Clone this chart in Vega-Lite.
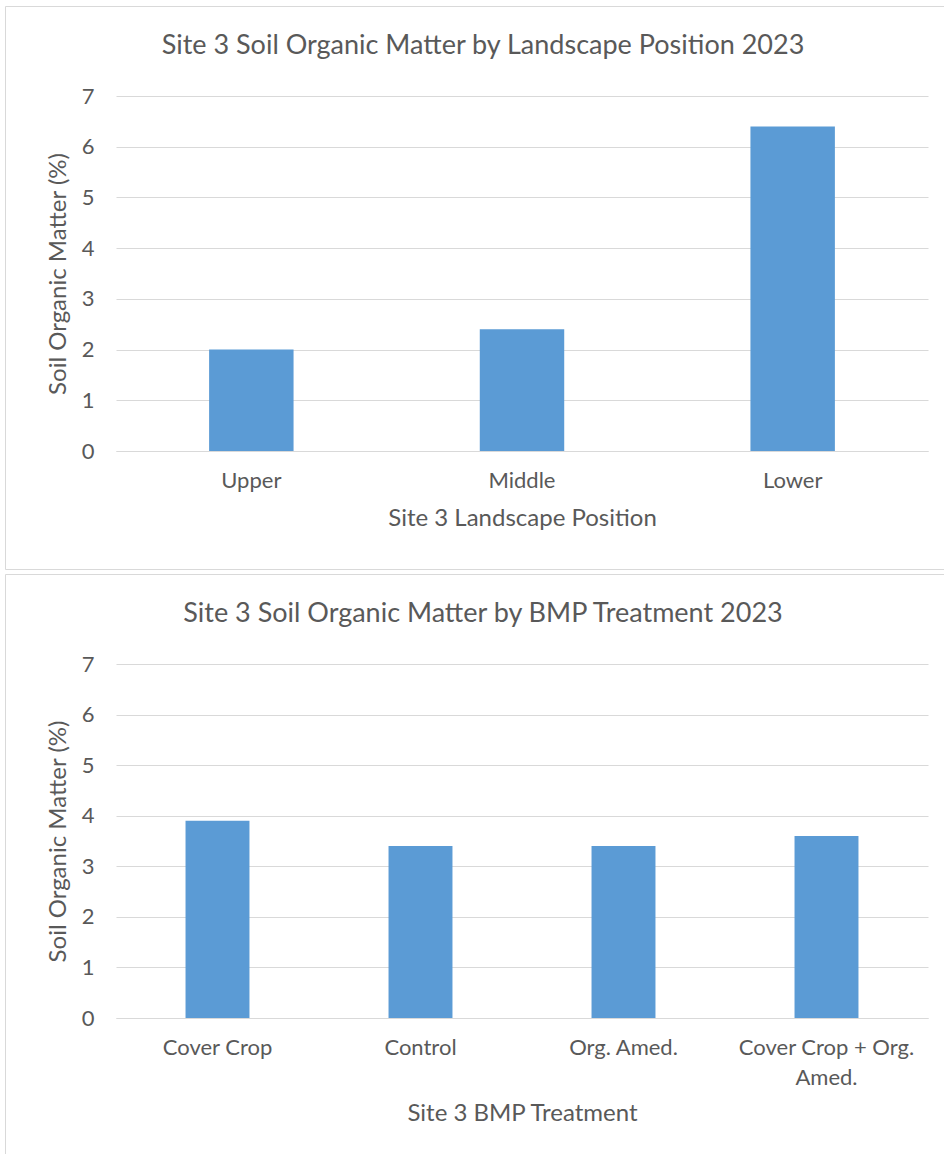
{
  "$schema": "https://vega.github.io/schema/vega-lite/v6.json",
  "background": "white",
  "padding": {"left": 4, "top": 5, "right": 0, "bottom": 0},
  "spacing": 3,
  "config": {
    "font": "Lato",
    "view": {"stroke": "#d9d9d9", "strokeWidth": 1},
    "title": {"fontSize": 27, "fontWeight": "normal", "color": "#595959", "anchor": "middle", "offset": -54},
    "axis": {
      "labelFont": "Lato",
      "labelFontSize": 22,
      "labelColor": "#595959",
      "titleFont": "Lato",
      "titleFontSize": 24,
      "titleFontWeight": "normal",
      "titleColor": "#595959",
      "ticks": false,
      "gridColor": "#d9d9d9",
      "gridWidth": 1.2,
      "domainColor": "#d9d9d9",
      "domainWidth": 1.2
    },
    "axisX": {"labelAngle": 0, "labelPadding": 19, "titlePadding": 15, "grid": false},
    "axisY": {"domain": false, "labelPadding": 22, "titlePadding": 11, "tickCount": 8}
  },
  "vconcat": [
    {
      "width": 956,
      "height": 563,
      "title": "Site 3 Soil Organic Matter by Landscape Position 2023",
      "data": {
        "values": [
          {"position": "Upper", "som": 2.0},
          {"position": "Middle", "som": 2.4},
          {"position": "Lower", "som": 6.4}
        ]
      },
      "mark": {"type": "bar", "color": "#5b9bd5"},
      "encoding": {
        "x": {
          "field": "position",
          "type": "nominal",
          "sort": null,
          "title": "Site 3 Landscape Position",
          "scale": {"range": [111, 923], "paddingInner": 0.688, "paddingOuter": 0.344},
          "axis": {"offset": -118}
        },
        "y": {
          "field": "som",
          "type": "quantitative",
          "title": "Soil Organic Matter (%)",
          "scale": {"domain": [0, 7], "range": [445, 90], "nice": false, "zero": true},
          "axis": {"offset": -111, "values": [0, 1, 2, 3, 4, 5, 6, 7]}
        }
      }
    },
    {
      "width": 956,
      "height": 600,
      "title": "Site 3 Soil Organic Matter by BMP Treatment 2023",
      "data": {
        "values": [
          {"treatment": "Cover Crop", "som": 3.9},
          {"treatment": "Control", "som": 3.4},
          {"treatment": "Org. Amed.", "som": 3.4},
          {"treatment": "Cover Crop + Org. Amed.", "som": 3.6}
        ]
      },
      "mark": {"type": "bar", "color": "#5b9bd5"},
      "encoding": {
        "x": {
          "field": "treatment",
          "type": "nominal",
          "sort": null,
          "title": "Site 3 BMP Treatment",
          "scale": {"range": [111, 923], "paddingInner": 0.685, "paddingOuter": 0.3425},
          "axis": {
            "offset": -156,
            "labelLineHeight": 30,
            "titlePadding": 13,
            "labelExpr": "datum.label == 'Cover Crop + Org. Amed.' ? ['Cover Crop + Org.', 'Amed.'] : datum.label"
          }
        },
        "y": {
          "field": "som",
          "type": "quantitative",
          "title": "Soil Organic Matter (%)",
          "scale": {"domain": [0, 7], "range": [444, 90], "nice": false, "zero": true},
          "axis": {"offset": -111, "values": [0, 1, 2, 3, 4, 5, 6, 7]}
        }
      }
    }
  ]
}
